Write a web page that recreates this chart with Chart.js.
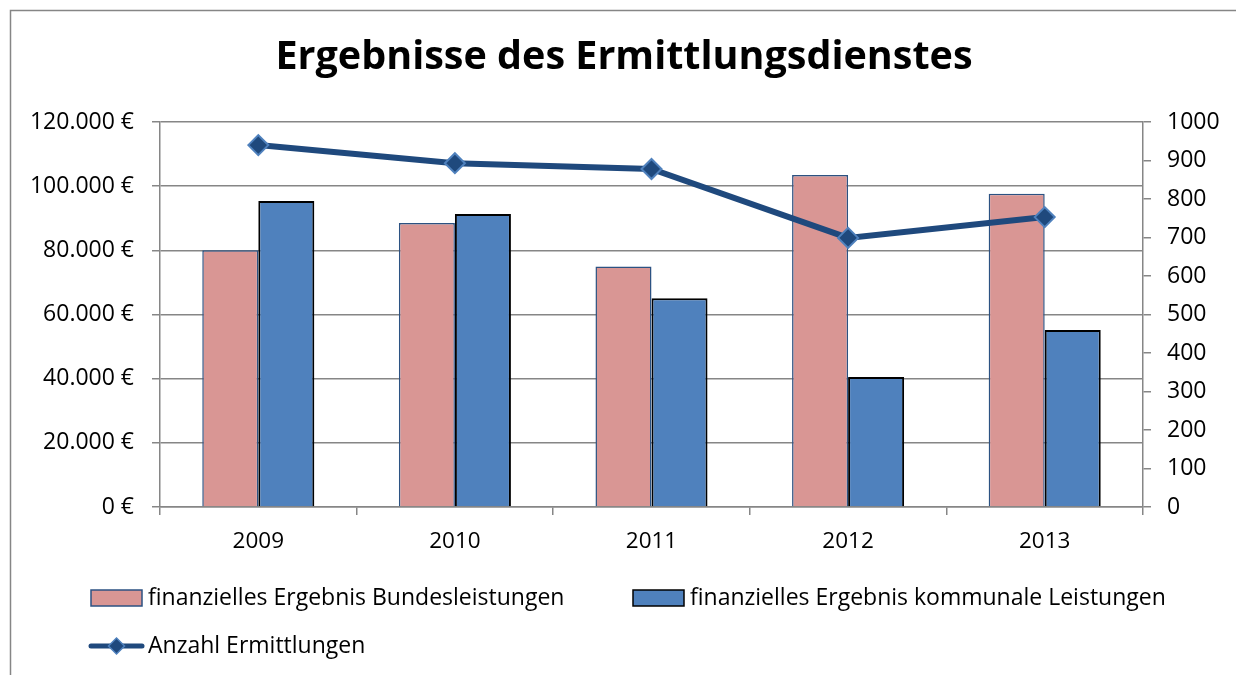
<!DOCTYPE html>
<html>
<head>
<meta charset="utf-8">
<script src="https://cdn.jsdelivr.net/npm/chart.js@4.4.1/dist/chart.umd.min.js"></script>
<style>
html, body { margin: 0; padding: 0; background: #fff; }
canvas { display: block; }
</style>
</head>
<body>
<canvas id="chart" width="1236" height="675"></canvas>
<script>
const years = ['2009', '2010', '2011', '2012', '2013'];
const bundesleistungen = [80000, 88500, 75000, 103500, 97600];
const kommunaleLeistungen = [95400, 91300, 65100, 40500, 55200];
const ermittlungen = [940, 893, 878, 699, 753];
const euroTicks = [0, 20000, 40000, 60000, 80000, 100000, 120000];
const countTicks = [0, 100, 200, 300, 400, 500, 600, 700, 800, 900, 1000];

const FONT = '"Open Sans"';
const GRID = '#868686';

function euro(v) {
    return String(v).replace(/\B(?=(\d{3})+(?!\d))/g, '.') + ' €';
}

// white background + the frame (left and top edge visible)
const framePlugin = {
    id: 'frame',
    beforeDraw(chart) {
        const ctx = chart.ctx;
        ctx.save();
        ctx.fillStyle = '#fff';
        ctx.fillRect(0, 0, chart.width, chart.height);
        ctx.strokeStyle = GRID;
        ctx.lineWidth = 1.5;
        ctx.beginPath();
        ctx.moveTo(10.5, chart.height);
        ctx.lineTo(10.5, 10.5);
        ctx.lineTo(chart.width, 10.5);
        ctx.stroke();
        ctx.restore();
    }
};

// Excel-like legend: two entries on the first row, the line below
const legendPlugin = {
    id: 'excelLegend',
    afterDraw(chart) {
        const ctx = chart.ctx;
        const ds = chart.data.datasets;
        const entries = [
            { d: ds[0], x: 91, y: 598 },
            { d: ds[1], x: 633, y: 598 },
            { d: ds[2], x: 89, y: 646 }
        ];
        ctx.save();
        ctx.font = '23px ' + FONT;
        ctx.textBaseline = 'middle';
        entries.forEach(e => {
            let tx;
            if (e.d.type === 'line') {
                ctx.strokeStyle = e.d.borderColor;
                ctx.lineWidth = 5;
                ctx.lineCap = 'round';
                ctx.beginPath();
                ctx.moveTo(e.x + 2, e.y);
                ctx.lineTo(e.x + 53, e.y);
                ctx.stroke();
                ctx.fillStyle = e.d.pointBackgroundColor;
                ctx.strokeStyle = e.d.pointBorderColor;
                ctx.lineWidth = 1.5;
                Chart.helpers.drawPoint(ctx, { pointStyle: 'rectRot', radius: 8, rotation: 0, borderWidth: 1.5 }, e.x + 27.5, e.y);
                tx = e.x + 59;
            } else {
                ctx.fillStyle = e.d.backgroundColor;
                ctx.fillRect(e.x, e.y - 8, 51, 16);
                ctx.strokeStyle = e.d.borderColor;
                ctx.lineWidth = 1.5;
                ctx.strokeRect(e.x, e.y - 8, 51, 16);
                tx = e.x + 57;
            }
            ctx.fillStyle = '#000';
            ctx.fillText(e.d.label, tx, e.y);
        });
        ctx.restore();
    }
};

const ctx = document.getElementById('chart').getContext('2d');

new Chart(ctx, {
    type: 'bar',
    data: {
        labels: years,
        datasets: [{
            type: 'bar',
            label: 'finanzielles Ergebnis Bundesleistungen',
            data: bundesleistungen,
            backgroundColor: '#D99694',
            borderColor: '#2C5282',
            borderWidth: 1.5,
            yAxisID: 'y',
            order: 1
        }, {
            type: 'bar',
            label: 'finanzielles Ergebnis kommunale Leistungen',
            data: kommunaleLeistungen,
            backgroundColor: '#4F81BD',
            borderColor: '#000000',
            borderWidth: 2,
            yAxisID: 'y',
            order: 1
        }, {
            type: 'line',
            label: 'Anzahl Ermittlungen',
            data: ermittlungen,
            borderColor: '#1F497D',
            borderWidth: 6,
            tension: 0,
            pointStyle: 'rectRot',
            pointRadius: 10,
            pointBackgroundColor: '#1F497D',
            pointBorderColor: '#4F81BD',
            pointBorderWidth: 2,
            yAxisID: 'y2',
            order: 0
        }]
    },
    options: {
        responsive: false,
        animation: false,
        devicePixelRatio: 1,
        layout: { padding: { left: 12, right: 0, top: 0, bottom: 108 } },
        categoryPercentage: 0.57,
        barPercentage: 1.0,
        plugins: {
            legend: { display: false },
            tooltip: { enabled: false },
            title: {
                display: true,
                text: 'Ergebnisse des Ermittlungsdienstes',
                color: '#000',
                font: { family: FONT, size: 39.5, weight: 'bold', lineHeight: 1.2 },
                padding: { top: 34, bottom: 40.6 }
            }
        },
        scales: {
            x: {
                offset: true,
                grid: {
                    offset: true,
                    drawOnChartArea: false,
                    drawTicks: true,
                    tickLength: 8,
                    color: GRID,
                    lineWidth: 1.5
                },
                border: { color: GRID, width: 1.5 },
                ticks: { color: '#000', font: { family: FONT, size: 22.5 }, padding: 13 },
                afterFit(s) { s.height = 60; }
            },
            y: {
                position: 'left',
                min: 0,
                max: 120000,
                afterBuildTicks(s) { s.ticks = euroTicks.map(v => ({ value: v })); },
                grid: { color: GRID, lineWidth: 1.5, tickLength: 8 },
                border: { color: GRID, width: 1.5 },
                ticks: {
                    color: '#000',
                    font: { family: FONT, size: 23 },
                    padding: 18,
                    callback: v => euro(v)
                },
                afterFit(s) { s.width = 148; }
            },
            y2: {
                position: 'right',
                min: 0,
                max: 1000,
                afterBuildTicks(s) { s.ticks = countTicks.map(v => ({ value: v })); },
                grid: { drawOnChartArea: false, color: GRID, lineWidth: 1.5, tickLength: 8 },
                border: { color: GRID, width: 1.5 },
                ticks: {
                    color: '#000',
                    font: { family: FONT, size: 23 },
                    padding: 16,
                    callback: v => String(v)
                },
                afterFit(s) { s.width = 93; }
            }
        }
    },
    plugins: [framePlugin, legendPlugin]
});
</script>
</body>
</html>
